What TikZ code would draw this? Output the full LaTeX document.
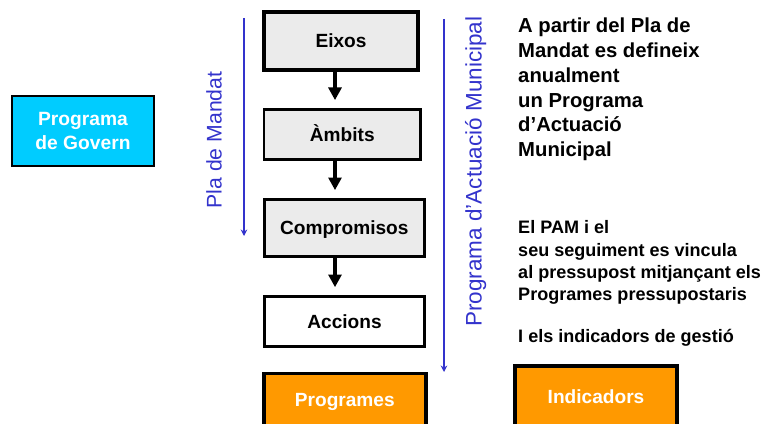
\documentclass[tikz,border=0pt]{standalone}
\usepackage{fontspec}
\setmainfont{Liberation Sans}
\usetikzlibrary{arrows.meta, positioning, calc}
\definecolor{cian}{HTML}{00CCFF}
\definecolor{taronja}{HTML}{FF9900}
\definecolor{grisclar}{HTML}{EBEBEB}
\definecolor{blau}{HTML}{3333CC}

\tikzset{
  vora/.style={draw=black, line width=2.5pt, inner sep=0pt},
  caixa/.style={vora, fill=grisclar,
    font=\fontsize{16.3}{20}\selectfont\bfseries, text height=11.7pt, text depth=0pt},
  caixataronja/.style={caixa, fill=taronja, text=white, line width=3.4pt},
  fletxa/.style={line width=3.4pt, -{Triangle[width=11pt, length=10.8pt]}, shorten >=6.7pt},
  fletxablava/.style={blau, line width=1.6pt, -{Stealth[width=5.5pt, length=5.5pt]}},
  etiquetablava/.style={blau, inner sep=0pt, rotate=90, anchor=base},
  textdreta/.style={inner sep=0pt, align=left, anchor=base west}
}

\begin{document}
\begin{tikzpicture}[x=0.03cm, y=-0.03cm]
      % picture is measured in pixels, 765 x 423
      \useasboundingbox (0,0) rectangle (765,423);
      \pgfmathsetmacro{\xfletxa}{335}
      \coordinate (eix) at (\xfletxa,0);

      % left box
      \node[vora, fill=cian, text=white, line width=2pt, align=center,
        minimum width=4.245cm, minimum height=2.085cm,
        font=\fontsize{16.4}{20}\selectfont\bfseries]
        (govern) at (83,131) {Programa\\de Govern};

      % column of steps
      \node[caixa, line width=3.4pt, minimum width=4.62cm, minimum height=1.73cm] (eixos) at (341,41) {Eixos};
      \node[caixa, line width=2.3pt, minimum width=4.7cm, minimum height=1.51cm] (ambits) at (342.3,134.5) {Àmbits};
      \node[caixa, minimum width=4.79cm, minimum height=1.70cm] (compromisos) at (344.3,227.8) {Compromisos};
      \node[caixa, fill=white, minimum width=4.8cm, minimum height=1.5cm] (accions) at (344.5,321.5) {Accions};
      \node[caixataronja, minimum width=4.87cm, minimum height=1.59cm] (programes) at (344.8,400) {Programes};

      \draw[fletxa] (eixos.south -| eix) -- (ambits.north -| eix);
      \draw[fletxa] (ambits.south -| eix) -- (compromisos.north -| eix);
      \draw[fletxa] (compromisos.south -| eix) -- (accions.north -| eix);

      % blue arrows with their labels
      \coordinate (pm1) at (244,18);
      \coordinate (pm2) at (244,236);
      \draw[fletxablava] (pm1) -- (pm2);
      \node[etiquetablava, font=\fontsize{18.1}{22}\selectfont] (plamandat) at (221.7,140) {Pla de Mandat};

      \coordinate (pam1) at (444,19);
      \coordinate (pam2) at (444,372);
      \draw[fletxablava] (pam1) -- (pam2);
      \node[etiquetablava, font=\fontsize{19.2}{23}\selectfont] (pam) at (481.7,171.5) {Programa d'Actuació Municipal};

      % text on the right (placed by the baseline of the last line)
      \node[textdreta, font=\fontsize{17.3}{21.2}\selectfont\bfseries] (textpla) at (518,156.7)
        {A partir del Pla de\\Mandat es defineix\\anualment\\un Programa\\d’Actuació\\Municipal};
      \node[textdreta, font=\fontsize{15.4}{19}\selectfont\bfseries] (textpam) at (518,342.7)
        {El PAM i el\\seu seguiment es vincula\\al pressupost mitjançant els\\Programes pressupostaris\\[17pt]I els indicadors de gestió};

      \node[caixataronja, minimum width=4.86cm, minimum height=1.84cm] (indicadors) at (596,396.7) {Indicadors};
    \end{tikzpicture}
\end{document}
